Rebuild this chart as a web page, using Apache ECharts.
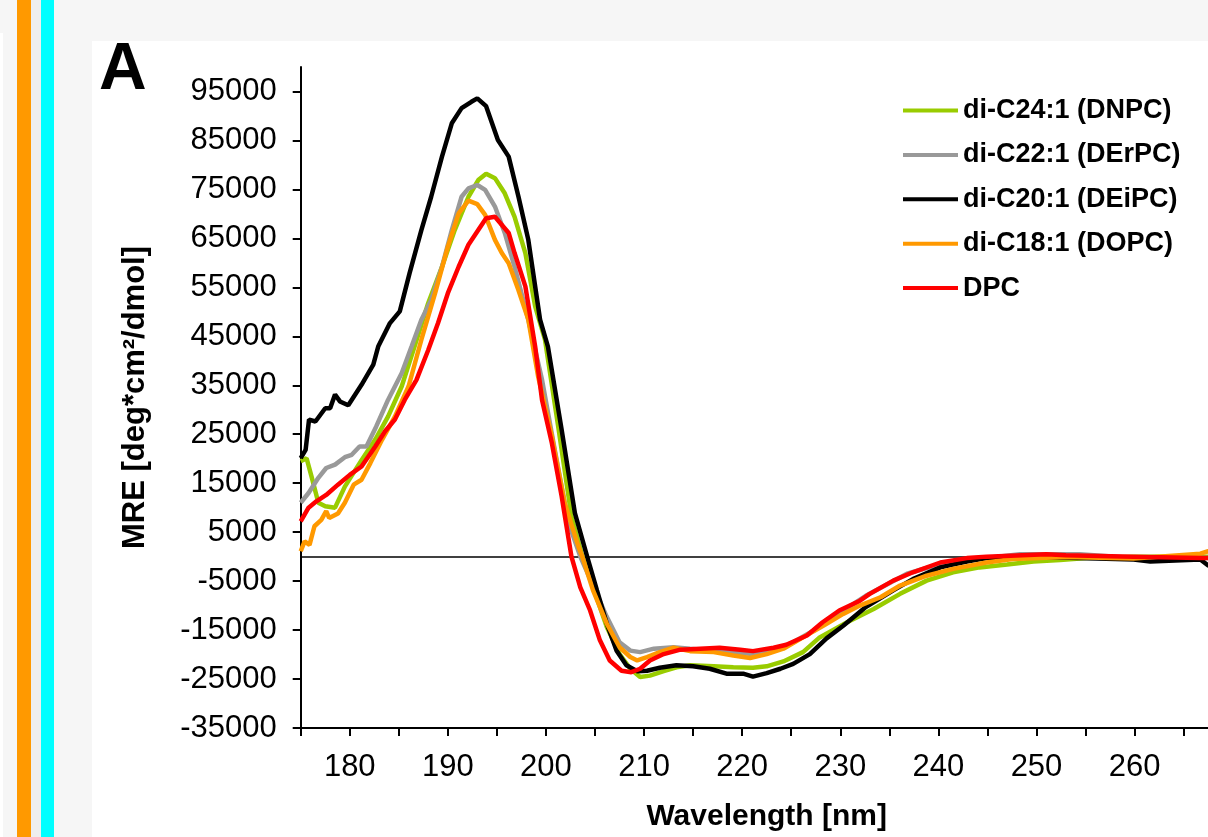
<!DOCTYPE html>
<html><head><meta charset="utf-8">
<script src="https://cdn.jsdelivr.net/npm/echarts@6/dist/echarts.min.js"></script>
<style>
html,body{margin:0;padding:0;background:#f6f6f6;overflow:hidden}
#wrap{position:relative;width:1208px;height:837px;background:#f6f6f6;overflow:hidden}
.bg{position:absolute}
#c{position:absolute;left:0;top:0;width:1208px;height:837px}
</style>
</head><body>
<div id="wrap">
  <div class="bg" style="left:0;top:33px;width:3px;height:804px;background:#ffffff"></div>
  <div class="bg" style="left:17px;top:0;width:14px;height:837px;background:#ff9900"></div>
  <div class="bg" style="left:31px;top:0;width:10px;height:837px;background:#eeeeee"></div>
  <div class="bg" style="left:41px;top:0;width:13px;height:837px;background:#00ffff"></div>
  <div class="bg" style="left:92px;top:41px;width:1116px;height:796px;background:#ffffff"></div>
  <div id="c"></div>
</div>
<script>
const seriesNames = ['di-C24:1 (DNPC)', 'di-C22:1 (DErPC)', 'di-C20:1 (DEiPC)', 'di-C18:1 (DOPC)', 'DPC'];
const seriesColors = ['#99cc00', '#999999', '#000000', '#ff9900', '#ff0000'];

const dnpcWavelength = [175.0,175.6,176.1,176.8,177.5,178.5,179.5,181.2,182.6,183.9,185.3,186.6,188.0,189.4,190.7,192.1,193.1,193.9,194.8,195.8,196.8,197.9,198.9,199.9,201.3,202.6,203.6,206.2,207.5,208.6,209.6,210.6,212.0,213.3,214.7,217.1,219.1,221.1,222.5,224.2,226.2,227.9,230.7,233.4,236.1,238.8,241.5,244.2,247.0,249.7,252.4,255.1,259.9,268.5];
const dnpcMRE = [19500,20100,16400,11000,10300,10000,14300,19700,23900,28600,34800,42900,51800,59200,66700,73500,76900,78200,77300,74200,69400,62000,51100,44300,25900,8200,800,-14400,-19900,-22900,-24600,-24300,-23400,-22600,-22200,-22400,-22600,-22700,-22400,-21400,-19500,-16500,-13400,-10700,-7600,-4900,-3200,-2200,-1600,-1000,-700,-300,0,0];

const derpcWavelength = [175.0,175.8,176.8,177.6,178.5,179.5,180.2,181.0,181.7,182.7,183.9,185.3,186.3,187.3,188.3,189.4,190.4,191.4,192.1,193.0,193.8,194.8,195.8,196.8,198.2,199.6,200.9,202.3,203.5,206.2,207.5,208.6,209.6,211.0,213.0,214.7,217.1,219.8,221.1,223.2,225.2,227.3,229.3,232.6,236.8,240.2,243.6,248.3,254.4,259.9,266.7,268.5];
const derpcMRE = [11000,13000,16100,18100,18800,20300,20800,22500,22500,26600,32000,37500,42900,48400,52400,59200,66700,73500,75200,75900,74900,71500,66100,59200,48400,36100,21800,6900,0,-12300,-17500,-19200,-19500,-18800,-18500,-18800,-19200,-19700,-19900,-19200,-17500,-15100,-12300,-8000,-3500,-1500,-600,500,500,-300,-300,-300];

const deipcWavelength = [175.0,175.5,175.85,176.5,177.5,178.0,178.5,179.0,179.85,181.2,182.4,182.9,184.1,185.1,186.1,187.3,188.3,189.4,190.4,191.4,192.4,193.0,193.9,195.1,196.2,197.2,198.2,199.4,200.2,201.6,202.95,204.2,205.2,206.2,207.2,208.2,209.3,210.3,211.6,213.3,215.0,216.7,218.4,220.1,221.1,222.5,223.9,225.2,226.9,228.6,230.3,232.6,235.4,237.4,240.2,242.9,244.9,249.6,259.9,261.6,266.7,267.5,268.5];
const deipcMRE = [20100,21800,28000,27600,30300,30300,33100,31700,30900,35100,39200,42900,47700,50100,57900,66700,73500,81700,88500,91600,92900,93600,92000,85100,81700,73500,64700,48400,42900,25900,8900,0,-6900,-13700,-19200,-22200,-23400,-23300,-22700,-22200,-22400,-22900,-23900,-23900,-24500,-23800,-22900,-21900,-19900,-16700,-14100,-10300,-6900,-4600,-2200,-1000,-300,0,-600,-1000,-600,-1800,-2000];

const dopcWavelength = [175.0,175.4,175.9,176.4,177.1,177.6,177.9,178.8,179.5,180.4,181.2,182.1,183.3,184.6,186.0,187.3,188.7,190.0,191.1,192.1,193.0,193.8,194.8,195.5,196.2,197.2,198.2,199.2,200.6,201.9,203.3,203.7,204.8,206.2,207.5,208.6,209.3,210.3,211.6,213.0,214.7,217.1,219.1,220.8,222.5,224.2,226.2,228.3,230.3,232.0,234.1,236.1,238.8,241.5,244.9,247.6,253.0,259.9,266.7,267.5,268.5];
const dopcMRE = [1100,3100,2400,6200,7500,9300,7900,8800,11000,14700,15700,19100,23900,28600,34800,44300,53800,63300,70100,72700,72000,69800,64700,62000,59900,54400,48400,36800,24600,11000,2100,0,-6900,-13700,-18500,-20500,-21200,-20500,-19500,-18600,-19300,-19500,-20200,-20700,-19900,-18800,-16500,-14100,-11700,-10000,-8300,-5900,-3900,-2500,-1200,-500,-100,-400,600,1100,1500];

const dpcWavelength = [175.0,175.8,176.6,177.6,178.8,180.0,181.2,182.6,183.6,184.6,185.6,186.8,188.0,189.0,190.0,191.1,192.1,193.1,193.9,194.8,196.2,196.8,197.9,198.9,199.6,200.6,201.6,202.6,203.5,204.5,205.5,206.5,207.7,208.7,209.6,210.6,212.0,213.7,215.7,217.7,219.8,221.1,223.2,224.5,226.6,228.2,229.9,232.0,233.0,235.4,237.4,240.2,242.9,244.9,251.0,253.0,259.9,266.7,268.5];
const dpcMRE = [7200,10000,11300,12600,14700,16700,18400,22500,25600,28000,32000,36100,42200,47700,53800,59200,63700,66700,69100,69400,66100,62000,55200,42900,32000,23200,12300,0,-6300,-11000,-17100,-21200,-23300,-23600,-22900,-21200,-19900,-19000,-18800,-18600,-19000,-19300,-18600,-18000,-16100,-13400,-11000,-9000,-7600,-4900,-3200,-1200,-300,0,500,300,0,-300,-300];

const yTickValues = [-35000,-25000,-15000,-5000,5000,15000,25000,35000,45000,55000,65000,75000,85000,95000];
const xLabelValues = [180,190,200,210,220,230,240,250,260,270];

const wavelengths = [dnpcWavelength, derpcWavelength, deipcWavelength, dopcWavelength, dpcWavelength];
const mres = [dnpcMRE, derpcMRE, deipcMRE, dopcMRE, dpcMRE];

const FONT = '"Liberation Sans", Arial, sans-serif';

const series = seriesNames.map((name, i) => {
  const s = {
    name: name,
    type: 'line',
    data: wavelengths[i].map((w, j) => [w, mres[i][j]]),
    symbol: 'none',
    smooth: false,
    lineStyle: { color: seriesColors[i], width: 4.5 },
    itemStyle: { color: seriesColors[i] },
    z: 3 + i
  };
  if (i === 0) {
    s.markLine = {
      silent: true,
      symbol: ['none', 'none'],
      label: { show: false },
      lineStyle: { color: '#000', width: 1.5, type: 'solid' },
      data: [{ yAxis: 0 }],
      z: 1
    };
  }
  return s;
});

const chart = echarts.init(document.getElementById('c'), null, { renderer: 'canvas' });
chart.setOption({
  animation: false,
  backgroundColor: 'transparent',
  textStyle: { fontFamily: FONT },
  grid: { left: 300.7, top: 67, width: 932, height: 661, containLabel: false, outerBoundsMode: 'none' },
  graphic: [
    { type: 'text', left: 99, top: 38, z: 10,
      style: { text: 'A', font: 'bold 66px ' + FONT, fill: '#000' } }
  ],
  legend: {
    orient: 'vertical',
    left: 898,
    top: 92,
    icon: 'rect',
    itemWidth: 55,
    itemHeight: 4,
    itemGap: 17.4,
    data: seriesNames,
    textStyle: { fontFamily: FONT, fontSize: 27, fontWeight: 'bold', color: '#000', lineHeight: 26 }
  },
  xAxis: {
    type: 'value',
    min: 175,
    max: 270,
    interval: 5,
    name: 'Wavelength [nm]',
    nameLocation: 'middle',
    nameGap: 74,
    nameTextStyle: { fontFamily: FONT, fontSize: 30, fontWeight: 'bold', color: '#000' },
    axisLine: { onZero: false, lineStyle: { color: '#000', width: 2 } },
    axisTick: { show: true, inside: false, length: 8, lineStyle: { color: '#000', width: 2 } },
    axisLabel: {
      color: '#000', fontSize: 31, fontFamily: FONT, margin: 24,
      showMaxLabel: true, hideOverlap: false,
      formatter: function (v) { return xLabelValues.indexOf(v) >= 0 ? String(v) : ''; }
    },
    splitLine: { show: false }
  },
  yAxis: {
    type: 'value',
    min: -35000,
    max: 100000,
    name: 'MRE [deg*cm\u00b2/dmol]',
    nameLocation: 'middle',
    nameGap: 150,
    nameTextStyle: { fontFamily: FONT, fontSize: 31, fontWeight: 'bold', color: '#000' },
    axisLine: { show: true, lineStyle: { color: '#000', width: 2 } },
    axisTick: { show: true, inside: false, length: 8, lineStyle: { color: '#000', width: 2 }, customValues: yTickValues },
    axisLabel: { color: '#000', fontSize: 31, fontFamily: FONT, margin: 24, customValues: yTickValues,
      formatter: function (v) { return String(v); } },
    splitLine: { show: false }
  },
  series: series
});
</script>
</body></html>
